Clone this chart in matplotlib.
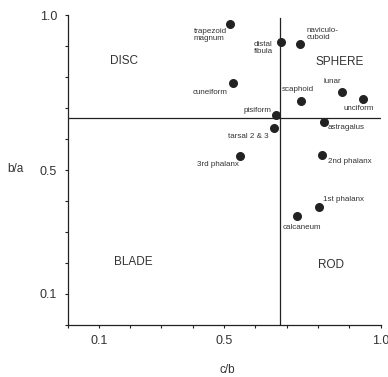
import numpy as np
import matplotlib
matplotlib.use('Agg')
from matplotlib import pyplot as plt

plt.rcParams['font.family'] = ['Liberation Sans', 'DejaVu Sans']

# bones: c/b (x) and b/a (y)
bones = ['trapezoid\nmagnum', 'distal\nfibula', 'naviculo-\ncuboid', 'cuneiform',
         'lunar', 'unciform', 'scaphoid', 'pisiform', 'astragalus',
         'tarsal 2 & 3', '3rd phalanx', '2nd phalanx', '1st phalanx', 'calcaneum']
cb = [0.519, 0.682, 0.743, 0.528, 0.877, 0.944, 0.745, 0.667, 0.819,
      0.659, 0.550, 0.813, 0.804, 0.734]
ba = [0.971, 0.914, 0.907, 0.780, 0.752, 0.729, 0.724, 0.676, 0.654,
      0.635, 0.545, 0.549, 0.380, 0.352]

shapes = ['DISC', 'SPHERE', 'BLADE', 'ROD']
shape_cb = [0.18, 0.87, 0.21, 0.84]
shape_ba = [0.851, 0.848, 0.203, 0.193]

limit_cb = 0.678
limit_ba = 0.669

# label placement (pixel offsets, alignment)
offs = [(-3, -11, 'right'), (-8, -6, 'right'), (6, 10, 'left'), (-5, -9, 'right'),
        (-10, 10, 'center'), (-20, -9, 'left'), (-3, 11, 'center'), (-5, 5, 'right'),
        (4, -5, 'left'), (-5, -8, 'right'), (-1, -8, 'right'), (6, -7, 'left'),
        (4, 8, 'left'), (5, -12, 'center')]

ink = '#222222'

fig = plt.figure(figsize=(3.88, 3.77), dpi=100)
ax = fig.add_axes([0.174, 0.138, 0.807, 0.822])

ax.plot([0, 1.0], [limit_ba, limit_ba], color=ink, lw=0.9)
ax.plot([limit_cb, limit_cb], [0, 0.99], color=ink, lw=0.9)

ax.scatter(cb, ba, s=30, color=ink, zorder=3)

for i in range(len(bones)):
    dx, dy, ha = offs[i]
    ax.annotate(bones[i], (cb[i], ba[i]), xytext=(dx, dy), textcoords='offset pixels',
                ha=ha, va='center', multialignment='left', fontsize=5.8,
                color='#333333', linespacing=1.05)

for i in range(len(shapes)):
    ax.text(shape_cb[i], shape_ba[i], shapes[i], ha='center', va='center',
            fontsize=8.5, color='#333333')

ax.set_xlim(0, 1.0)
ax.set_ylim(0, 1.0)
ticks = np.round(np.arange(0, 1.01, 0.1), 1)
lab = ['0.1' if t == 0.1 else '0.5' if t == 0.5 else '1.0' if t == 1.0 else '' for t in ticks]
ax.set_xticks(ticks)
ax.set_xticklabels(lab)
ax.set_yticks(ticks)
ax.set_yticklabels(lab)
ax.tick_params(length=2.5, width=0.8, color=ink, labelsize=9, labelcolor='#333333', pad=5)

for s in ['top', 'right']:
    ax.spines[s].set_visible(False)
for s in ['left', 'bottom']:
    ax.spines[s].set_color(ink)
    ax.spines[s].set_linewidth(0.9)

ax.set_xlabel('c/b', fontsize=8.5, color='#333333', va='center')
ax.set_ylabel('b/a', fontsize=8.5, color='#333333', rotation=0, va='center')
ax.xaxis.set_label_coords(0.51, -0.145)
ax.yaxis.set_label_coords(-0.167, 0.503)

plt.savefig('out.png', dpi=100)
